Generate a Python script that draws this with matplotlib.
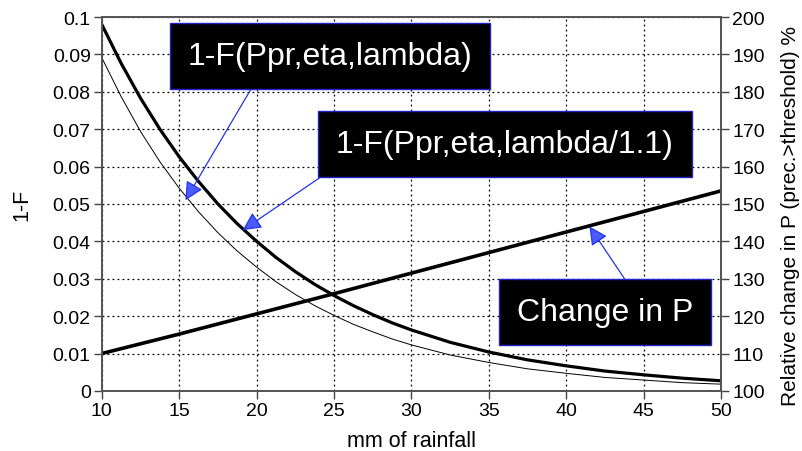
import numpy as np
import matplotlib.pyplot as plt

plt.rcParams['font.family'] = ['Liberation Sans', 'DejaVu Sans']

# Data
rain_mm = [10, 11.25, 12.5, 13.75, 15, 16.25, 17.5, 18.75, 20, 21.25, 22.5, 23.75, 25,
           26.25, 27.5, 28.75, 30, 32.5, 35, 37.5, 40, 42.5, 45, 47.5, 50]
surv_lambda = [0.0980, 0.0876, 0.0783, 0.0700, 0.0626, 0.0560, 0.0500, 0.0447, 0.0400,
               0.0357, 0.0319, 0.0285, 0.0255, 0.0228, 0.0204, 0.0182, 0.0163,
               0.0130, 0.0104, 0.0083, 0.0067, 0.0053, 0.0043, 0.0034, 0.0027]
surv_lambda_11 = [0.0891, 0.0787, 0.0694, 0.0613, 0.0542, 0.0479, 0.0423, 0.0374, 0.0331,
                  0.0292, 0.0258, 0.0228, 0.0202, 0.0178, 0.0158, 0.0139, 0.0123,
                  0.0096, 0.0076, 0.0059, 0.0047, 0.0036, 0.0029, 0.0022, 0.0018]
change_x = [10, 15, 20, 25, 30, 35, 40, 45, 50]
change_pct = [110, 115.2, 120.6, 126, 131.5, 137, 142.5, 148, 153.5]

xticks = [10, 15, 20, 25, 30, 35, 40, 45, 50]
yticks = [0, 0.01, 0.02, 0.03, 0.04, 0.05, 0.06, 0.07, 0.08, 0.09, 0.1]
yticks_r = [100, 110, 120, 130, 140, 150, 160, 170, 180, 190, 200]

fig = plt.figure(figsize=(8.02, 4.52), dpi=100)
ax = fig.add_axes([0.127, 0.133, 0.772, 0.827])
ax2 = ax.twinx()

ax.plot(rain_mm, surv_lambda, color='black', lw=2.3)
ax.plot(rain_mm, surv_lambda_11, color='black', lw=0.7)
ax2.plot(change_x, change_pct, color='black', lw=2.6)

ax.set_xlim(10, 50)
ax.set_ylim(0, 0.1)
ax2.set_ylim(100, 200)
ax.set_xticks(xticks)
ax.set_yticks(yticks)
ax.set_yticklabels(['0', '0.01', '0.02', '0.03', '0.04', '0.05', '0.06', '0.07', '0.08', '0.09', '0.1'])
ax2.set_yticks(yticks_r)

ax.grid(True, linestyle=(0, (1.5, 2.5)), color='black', linewidth=0.9)
for a in (ax, ax2):
    a.tick_params(direction='out', length=6, width=1, labelsize=14, color='#444444', pad=2)
    for s in a.spines.values():
        s.set_color('#555555')
        s.set_linewidth(1.3)

ax.set_xlabel('mm of rainfall', fontsize=15.5, labelpad=8)
ax.set_ylabel('1-F', fontsize=15.5)
ax.yaxis.set_label_coords(-0.113, 0.5)
ax2.set_ylabel('Relative change in P (prec.>threshold) %', fontsize=15)
ax2.yaxis.set_label_coords(1.097, 0.47)

box = dict(boxstyle='square,pad=0.55', fc='black', ec='#2222cc', lw=1)


def arrow(rx, ry):
    return dict(arrowstyle='-|>', color='#2233ee', fc='#4a5cff', lw=0.9,
                mutation_scale=28, relpos=(rx, ry), shrinkA=0, shrinkB=0)


ax.annotate('1-F(Ppr,eta,lambda)', xy=(15.4, 0.051), xytext=(330, 395),
            textcoords='figure pixels', ha='center', va='center', color='white',
            fontsize=23, bbox=box, arrowprops=arrow(0.26, 0.0), zorder=5)
ax.annotate('1-F(Ppr,eta,lambda/1.1)', xy=(19.1, 0.043), xytext=(505, 307),
            textcoords='figure pixels', ha='center', va='center', color='white',
            fontsize=23, bbox=box, arrowprops=arrow(0.033, 0.0), zorder=5)
ax2.annotate('Change in P', xy=(41.5, 144), xytext=(605, 139),
             textcoords='figure pixels', ha='center', va='center', color='white',
             fontsize=23, bbox=box, arrowprops=arrow(0.68, 1.0), zorder=5)

fig.savefig('out.png', dpi=100)
